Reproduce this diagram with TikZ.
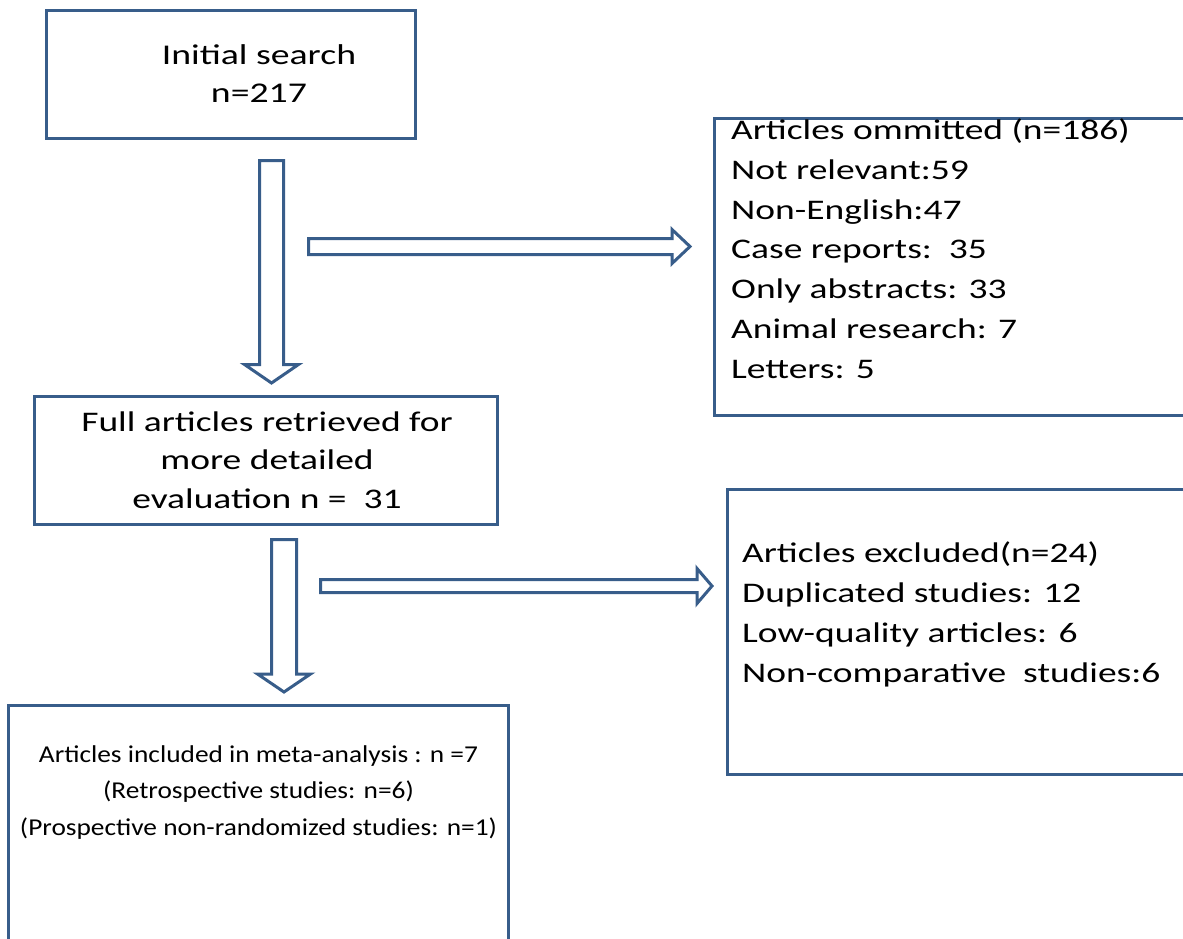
\documentclass[tikz,border=0pt]{standalone}
\usepackage{fontspec}
\setmainfont{Carlito}
\newfontfamily\fmain[FakeStretch=1.32]{Carlito}
\newfontfamily\fsmall[FakeStretch=1.13]{Carlito}
\usetikzlibrary{calc}
\definecolor{bcol}{RGB}{56,93,138}
\tikzset{
  box/.style={draw=bcol, line width=3.1pt, rectangle, inner sep=0pt},
  txt/.style={inner sep=0pt, text=black},
  bigtxt/.style={txt, font=\fmain\fontsize{28.4}{39.7}\selectfont},
  smalltxt/.style={txt, font=\fsmall\fontsize{24.2}{36.5}\selectfont},
  blockarrow/.style={draw=bcol, line width=3pt, line join=miter},
  blockdown/.style n args={3}{
    to path={let \p1=(\tikztostart), \p2=(\tikztotarget) in
      (\x1-#1,\y1) -- (\x1+#1,\y1) -- (\x1+#1,\y2+#3) -- (\x1+#2,\y2+#3) -- (\x1,\y2)
      -- (\x1-#2,\y2+#3) -- (\x1-#1,\y2+#3) -- cycle}},
  blockright/.style n args={3}{
    to path={let \p1=(\tikztostart), \p2=(\tikztotarget) in
      (\x1,\y1-#1) -- (\x2-#3,\y1-#1) -- (\x2-#3,\y1-#2) -- (\x2,\y1)
      -- (\x2-#3,\y1+#2) -- (\x2-#3,\y1+#1) -- (\x1,\y1+#1) -- cycle}}
}
\begin{document}
\begin{tikzpicture}[x=1pt,y=-1pt]
\useasboundingbox (0,0) rectangle (1183,939);
\clip (0,0) rectangle (1183,939);
\fill[white] (0,0) rectangle (1183,939);

% boxes
\node[box, minimum width=369pt, minimum height=128pt] (init) at (231,74.5) {};
\node[box, minimum width=485.5pt, minimum height=297pt] (omit) at (957.25,267) {};
\node[box, minimum width=463pt, minimum height=128pt] (full) at (266,460.5) {};
\node[box, minimum width=472.5pt, minimum height=285pt] (excl) at (963.75,632) {};
\node[box, minimum width=500pt, minimum height=254.5pt] (incl) at (258.5,832.75) {};

% texts (anchor base = baseline of the last line)
\node[bigtxt, align=center, font=\fmain\fontsize{28.6}{38}\selectfont, anchor=base] (initT) at (259,103) {Initial search\\n=217};
\node[bigtxt, align=left, anchor=base west] (omitT) at (731,378) {Articles ommitted (n=186)\\Not relevant:59\\Non-English:47\\Case reports:\ \ 35\\Only abstracts: 33\\Animal research: 7\\Letters: 5};
\node[bigtxt, align=center, font=\fmain\fontsize{28.4}{38.5}\selectfont, anchor=base] (fullT) at (267,508) {Full articles retrieved for\\more detailed\\evaluation n = \ 31};
\node[bigtxt, align=left, anchor=base west] (exclT) at (742,682) {Articles excluded(n=24)\\Duplicated studies: 12\\Low-quality articles: 6\\Non-comparative\ \ studies:6};
\node[smalltxt, align=center, anchor=base] (inclT) at (258.5,835) {Articles included in meta-analysis : n =7\\(Retrospective studies: n=6)\\(Prospective non-randomized studies: n=1)};

% block arrows
\coordinate (a1s) at (271.5,160.5);
\coordinate (a1e) at (271.5,383);
\coordinate (a2s) at (308.5,246.5);
\coordinate (a2e) at (690,246.5);
\coordinate (a3s) at (284,539.5);
\coordinate (a3e) at (284,692);
\coordinate (a4s) at (320.5,586);
\coordinate (a4e) at (712,586);

\draw[blockarrow] (a1s) to[blockdown={12pt}{27pt}{18.5pt}] (a1e);
\draw[blockarrow] (a2s) to[blockright={8pt}{17pt}{18pt}] (a2e);
\draw[blockarrow] (a3s) to[blockdown={12.5pt}{26.5pt}{18pt}] (a3e);
\draw[blockarrow] (a4s) to[blockright={6.5pt}{17.5pt}{15pt}] (a4e);
\end{tikzpicture}
\end{document}
